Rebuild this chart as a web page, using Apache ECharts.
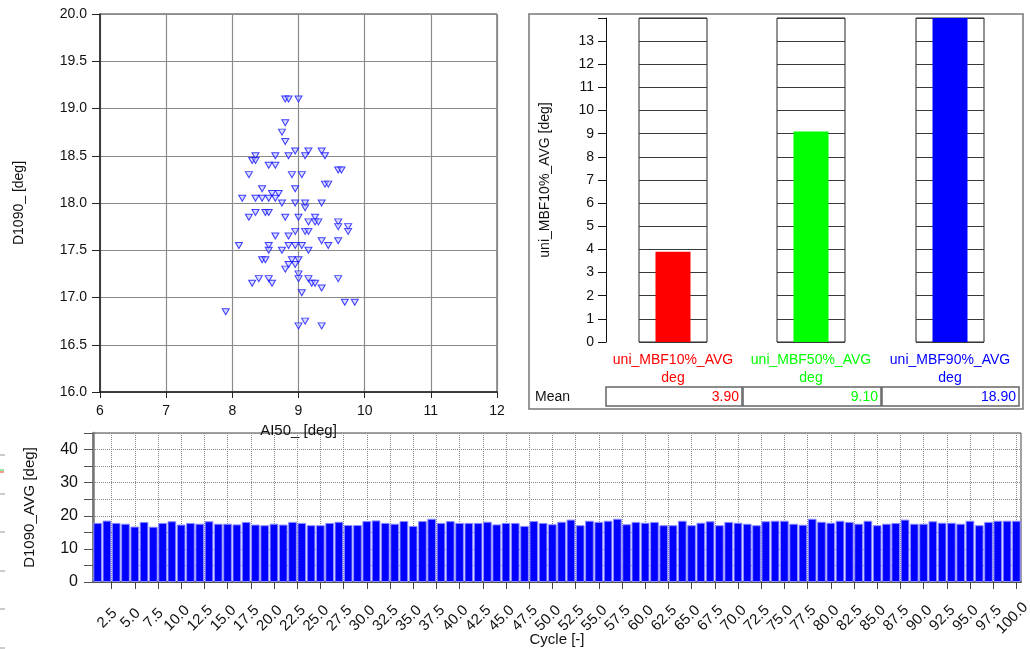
<!DOCTYPE html>
<html><head><meta charset="utf-8">
<script src="https://cdn.jsdelivr.net/npm/echarts@6/dist/echarts.min.js"></script>
<style>html,body{margin:0;padding:0;background:#fff}#c{width:1030px;height:649px}</style>
</head><body><div id="c"></div>
<script>
// ---- Scatter: AI50 vs D1090 ----
const scatterAI50 = [8.8,8.85,9.0, 8.8, 8.75, 8.8, 8.95,9.15,9.35, 8.35,8.65,8.85,9.1,9.4, 8.3,8.35, 8.55,8.65, 9.6,9.65, 8.25,8.9,9.05, 9.4,9.45, 8.45,8.95, 8.6,8.7, 8.15,8.35,8.45,8.55,8.65, 8.75,8.95,9.1,9.35, 9.1, 8.35,8.5,8.55, 8.25,8.8,9.0,9.25, 9.15,9.25,9.3,9.6, 9.6,9.75, 8.95,9.1,9.15,9.75, 8.65,8.85, 9.35,9.6, 8.1,8.55,8.85,8.95,9.05,9.45, 8.55,8.75,9.15, 8.45,8.5,8.9,9.0, 8.85,8.95, 8.8, 9.0, 8.4,8.55,9.0,9.15,9.6, 8.3,8.6,9.2,9.25, 9.35, 9.05, 9.7,9.85, 7.9, 9.1, 9.0,9.35];
const scatterD1090 = [19.1,19.1,19.1, 18.85, 18.75, 18.65, 18.55,18.55,18.55, 18.5,18.5,18.5,18.5,18.5, 18.45,18.45, 18.4,18.4, 18.35,18.35, 18.3,18.3,18.3, 18.2,18.2, 18.15,18.15, 18.1,18.1, 18.05,18.05,18.05,18.05,18.05, 18.0,18.0,18.0,18.0, 17.95, 17.9,17.9,17.9, 17.85,17.85,17.85,17.85, 17.8,17.8,17.8,17.8, 17.75,17.75, 17.7,17.7,17.7,17.7, 17.65,17.65, 17.6,17.6, 17.55,17.55,17.55,17.55,17.55,17.55, 17.5,17.5,17.5, 17.4,17.4,17.4,17.4, 17.35,17.35, 17.3, 17.25, 17.2,17.2,17.2,17.2,17.2, 17.15,17.15,17.15,17.15, 17.1, 17.05, 16.95,16.95, 16.85, 16.75, 16.7,16.7];

// ---- Mean bar panel ----
const meanNames = ['uni_MBF10%_AVG','uni_MBF50%_AVG','uni_MBF90%_AVG'];
const meanUnits = ['deg','deg','deg'];
const meanValues = [3.90, 9.10, 18.90];
const meanColors = ['#ff0000','#00ff00','#0000ff'];

// ---- Cycle bars ----
const cycles = [1,2,3,4,5,6,7,8,9,10,11,12,13,14,15,16,17,18,19,20,21,22,23,24,25,26,27,28,29,30,31,32,33,34,35,36,37,38,39,40,41,42,43,44,45,46,47,48,49,50,51,52,53,54,55,56,57,58,59,60,61,62,63,64,65,66,67,68,69,70,71,72,73,74,75,76,77,78,79,80,81,82,83,84,85,86,87,88,89,90,91,92,93,94,95,96,97,98,99,100];
const cycleD1090 = [17.85,18.55,17.85,17.6,16.75,18.15,16.7,17.85,18.35,17.35,
 17.85,17.6,18.35,17.6,17.6,17.4,18.15,17.35,17.15,17.6,
 17.35,18.15,17.85,17.15,17.15,17.85,18.2,17.2,17.2,18.4,
 18.6,17.85,17.6,18.4,16.95,18.4,19.1,17.85,18.4,17.85,
 17.85,17.85,18.2,17.4,17.85,17.85,16.95,18.4,17.85,17.45,
 18.2,18.85,17.15,18.5,18.15,18.5,19.1,17.45,18.15,17.9,
 18.15,17.15,17.15,18.5,17.15,17.9,18.35,17.15,18.15,17.9,
 17.6,17.15,18.35,18.5,18.5,17.6,17.3,19.1,18.2,17.9,
 18.5,18.15,17.6,18.5,17.15,17.6,17.85,18.85,17.6,17.6,
 18.35,17.9,17.9,17.6,18.5,17.15,18.15,18.5,18.5,18.5];
const cycleTicks = [2.5,5,7.5,10,12.5,15,17.5,20,22.5,25,27.5,30,32.5,35,37.5,40,42.5,45,47.5,50,52.5,55,57.5,60,62.5,65,67.5,70,72.5,75,77.5,80,82.5,85,87.5,90,92.5,95,97.5,100];

const FONT = "'Liberation Sans', Arial, sans-serif";
const chart = echarts.init(document.getElementById('c'), null, {renderer:'canvas'});

const colLefts = [639, 777, 916];
const grids = [], xAxes = [], yAxes = [], series = [];

// Column grids (0..2)
for (let i = 0; i < 3; i++) {
  grids.push({left: colLefts[i], width: 68, top: 18, height: 324, show: true, borderColor: '#222', borderWidth: 1, outerBoundsMode: 'none', containLabel: false});
  xAxes.push({gridIndex: i, type: 'category', data: [meanNames[i]],
    axisLine: {show: false}, axisTick: {show: false},
    axisLabel: {show: true, margin: 9, interval: 0, fontFamily: FONT, fontSize: 14, lineHeight: 18, color: meanColors[i],
      formatter: () => meanNames[i] + '\n' + meanUnits[i]}});
  yAxes.push({gridIndex: i, type: 'value', min: 0, max: 14, interval: 1,
    axisLine: {show: false}, axisTick: {show: false}, axisLabel: {show: false},
    splitLine: {show: true, lineStyle: {color: '#3a3a3a', width: 1}}});
  series.push({type: 'bar', xAxisIndex: i, yAxisIndex: i, data: [meanValues[i]], barWidth: 35, clip: true,
    itemStyle: {color: meanColors[i]}, z: 3});
}
// Axis-only grid (3)
grids.push({left: 606, width: 20, top: 18, height: 324, outerBoundsMode: 'none', containLabel: false});
xAxes.push({gridIndex: 3, type: 'category', data: [''], show: false});
yAxes.push({gridIndex: 3, type: 'value', min: 0, max: 14, interval: 1,
  name: 'uni_MBF10%_AVG [deg]', nameLocation: 'middle', nameRotate: 90, nameGap: 54,
  nameTextStyle: {fontFamily: FONT, fontSize: 14, color: '#111'},
  axisLine: {show: true, lineStyle: {color: '#111', width: 1}},
  axisTick: {show: true, length: 8, lineStyle: {color: '#111'}},
  axisLabel: {fontFamily: FONT, fontSize: 14, color: '#111', margin: 12, formatter: v => v === 14 ? '' : String(v)},
  splitLine: {show: false}});

// Scatter grid (4)
grids.push({left: 100, top: 14, width: 397, height: 378, show: true, borderColor: '#333', borderWidth: 1, outerBoundsMode: 'none', containLabel: false});
xAxes.push({gridIndex: 4, type: 'value', min: 6, max: 12, interval: 1,
  name: 'AI50_ [deg]', nameLocation: 'middle', nameGap: 28,
  nameTextStyle: {fontFamily: FONT, fontSize: 15, color: '#111'},
  axisLine: {lineStyle: {color: '#222', width: 1.5}}, axisTick: {length: 6, lineStyle: {color: '#222'}},
  axisLabel: {fontFamily: FONT, fontSize: 14, color: '#111', margin: 12},
  splitLine: {show: true, lineStyle: {color: '#8a8a8a', width: 1.2}}});
yAxes.push({gridIndex: 4, type: 'value', min: 16, max: 20, interval: 0.5,
  name: 'D1090_ [deg]', nameLocation: 'middle', nameRotate: 90, nameGap: 74,
  nameTextStyle: {fontFamily: FONT, fontSize: 14, color: '#111'},
  axisLine: {lineStyle: {color: '#222', width: 1.5}}, axisTick: {length: 8, lineStyle: {color: '#222'}},
  axisLabel: {fontFamily: FONT, fontSize: 14, color: '#111', margin: 13, formatter: v => v.toFixed(1)},
  splitLine: {show: true, lineStyle: {color: '#8a8a8a', width: 1.2}}});
series.push({type: 'scatter', xAxisIndex: 4, yAxisIndex: 4,
  data: scatterAI50.map((x, k) => [x, scatterD1090[k]]),
  symbol: 'triangle', symbolRotate: 180, symbolSize: [7, 6],
  itemStyle: {color: 'rgba(190,190,255,0.7)', borderColor: '#1212ff', borderWidth: 1}, z: 3});

// Cycle bar grid (5)
grids.push({left: 93, right: 9, top: 433, bottom: 67, show: true, borderColor: '#444', borderWidth: 1, outerBoundsMode: 'none', containLabel: false});
xAxes.push({gridIndex: 5, type: 'value', min: 0.5, max: 100.5,
  name: 'Cycle [-]', nameLocation: 'middle', nameGap: 50, nameMoveOverlap: false,
  nameTextStyle: {fontFamily: FONT, fontSize: 15, color: '#111'},
  axisLine: {lineStyle: {color: '#555', width: 2}},
  axisTick: {show: true, length: 7, customValues: cycleTicks, lineStyle: {color: '#444'}},
  axisLabel: {fontFamily: FONT, fontSize: 15, color: '#111', rotate: 45, margin: 32, align: 'center', verticalAlign: 'middle',
    padding: [0, 12, 0, 0], customValues: cycleTicks, formatter: v => v.toFixed(1)},
  splitLine: {show: true, lineStyle: {color: '#888', type: 'dotted', width: 1}}});
yAxes.push({gridIndex: 5, type: 'value', min: 0, max: 45, interval: 5,
  name: 'D1090_AVG [deg]', nameLocation: 'middle', nameRotate: 90, nameGap: 56,
  nameTextStyle: {fontFamily: FONT, fontSize: 15, color: '#111'},
  axisLine: {lineStyle: {color: '#777', width: 2.5}}, axisTick: {length: 9, lineStyle: {color: '#555'}},
  axisLabel: {fontFamily: FONT, fontSize: 16, color: '#111', margin: 15, formatter: v => v % 10 === 0 ? String(v) : ''},
  splitLine: {show: true, lineStyle: {color: '#888', type: 'dotted', width: 1}}});
series.push({type: 'bar', xAxisIndex: 5, yAxisIndex: 5,
  data: cycles.map((c, k) => [c, cycleD1090[k]]),
  barWidth: '94%', itemStyle: {color: '#0000ff', borderColor: '#8c8cff', borderWidth: 1}, z: 3});

// Graphic: panel frame & mean table
const cellX = [606, 743, 882], cellW = [136, 138, 137];
const graphic = [
  {type: 'rect', shape: {x: 529, y: 14, width: 494, height: 395}, style: {fill: 'none', stroke: '#777', lineWidth: 1.5}, silent: true},
  {type: 'text', x: 535, y: 397, style: {text: 'Mean', font: '14px ' + FONT, fill: '#111', verticalAlign: 'middle'}}
];
for (let i = 0; i < 3; i++) {
  graphic.push({type: 'rect', shape: {x: cellX[i], y: 387, width: cellW[i], height: 19}, style: {fill: 'none', stroke: '#666', lineWidth: 1.5}});
  graphic.push({type: 'text', x: cellX[i] + cellW[i] - 3, y: 397, style: {text: meanValues[i].toFixed(2), font: '14px ' + FONT, fill: meanColors[i], align: 'right', verticalAlign: 'middle'}});
}
// clipped fragments at the far left edge
[455, 494, 532, 571, 609, 648].forEach(y => graphic.push({type: 'line', shape: {x1: 0, y1: y, x2: 5, y2: y}, style: {stroke: '#999', lineWidth: 1}}));
graphic.push({type: 'line', shape: {x1: 0, y1: 472, x2: 4, y2: 472}, style: {stroke: '#e33', lineWidth: 1}});
graphic.push({type: 'line', shape: {x1: 0, y1: 470, x2: 4, y2: 470}, style: {stroke: '#3c3', lineWidth: 1}});

chart.setOption({
  animation: false,
  backgroundColor: '#fff',
  textStyle: {fontFamily: FONT},
  grid: grids, xAxis: xAxes, yAxis: yAxes, series: series, graphic: graphic
});
</script></body></html>
